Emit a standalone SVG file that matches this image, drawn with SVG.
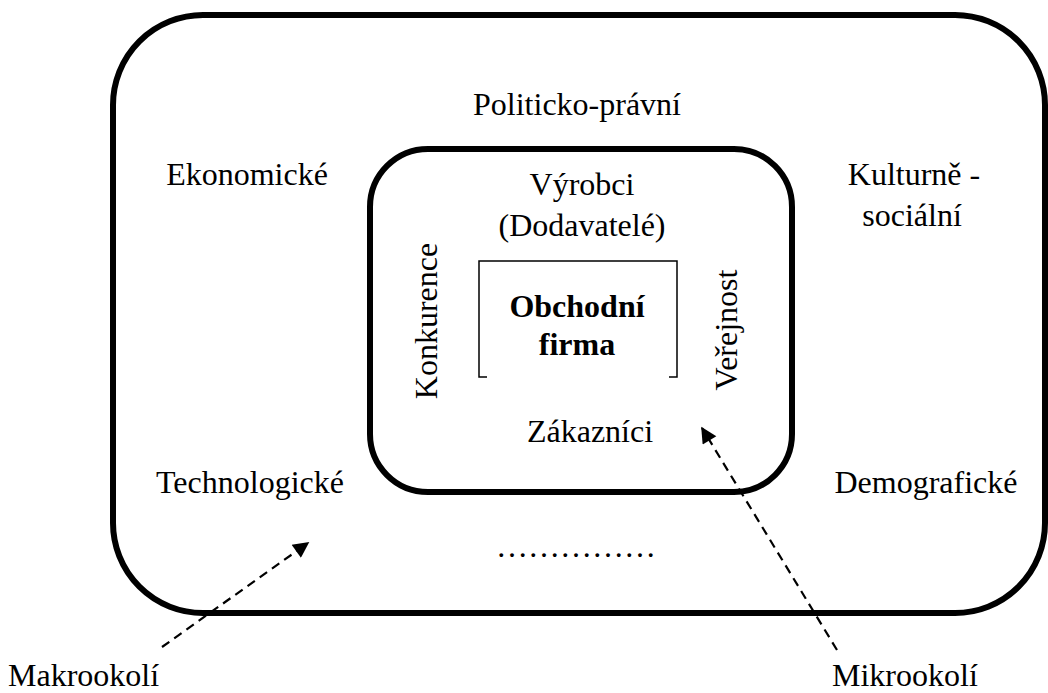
<svg xmlns="http://www.w3.org/2000/svg" width="1048" height="693" viewBox="0 0 1048 693">
<style>
text{font-family:"Liberation Serif","Times New Roman",serif;font-size:32px;fill:#000;}
.c{text-anchor:middle;}
.b{font-weight:bold;}
.frame{fill:none;stroke:#000;stroke-width:6;}
.thin{fill:none;stroke:#000;stroke-width:1.5;}
.dash{fill:none;stroke:#000;stroke-width:2.2;stroke-dasharray:9 6;}
</style>
<defs>
<marker id="ah2" viewBox="0 0 10 10" refX="9" refY="5" markerWidth="18" markerHeight="16" markerUnits="userSpaceOnUse" orient="auto">
<path d="M0,0 L10,5 L0,10 z" fill="#000"/>
</marker>
</defs>
<g id="makrookoli">
<rect class="frame" x="113" y="15" width="932" height="598" rx="90" ry="90"/>
<text class="c" x="577" y="115">Politicko-právní</text>
<text class="c" x="247" y="185">Ekonomické</text>
<text class="c" x="914" y="185">Kulturně -</text>
<text class="c" x="912" y="226">sociální</text>
<text class="c" x="250" y="493">Technologické</text>
<text class="c" x="926" y="493">Demografické</text>
<text class="c" x="576" y="557">……………</text>
</g>
<g id="mikrookoli">
<rect class="frame" x="370" y="149" width="422" height="343" rx="58" ry="58"/>
<text class="c" x="582" y="195">Výrobci</text>
<text class="c" x="582" y="236">(Dodavatelé)</text>
<text class="c" transform="translate(437,321) rotate(-90)" x="0" y="0">Konkurence</text>
<text class="c" transform="translate(737,330) rotate(-90)" x="0" y="0">Veřejnost</text>
<text class="c" x="590" y="442">Zákazníci</text>
</g>
<g id="firma">
<path class="thin" d="M487,377 L479,377 L479,261 L677,261 L677,377 L669,377"/>
<text class="c b" x="577" y="317">Obchodní</text>
<text class="c b" x="577" y="355">firma</text>
</g>
<g id="labels">
<text x="8" y="686">Makrookolí</text>
<text x="832" y="686">Mikrookolí</text>
</g>
<g id="connectors">
<line class="dash" x1="162" y1="647" x2="308" y2="543" marker-end="url(#ah2)"/>
<line class="dash" x1="837" y1="650" x2="702" y2="428" marker-end="url(#ah2)"/>
</g>
</svg>
